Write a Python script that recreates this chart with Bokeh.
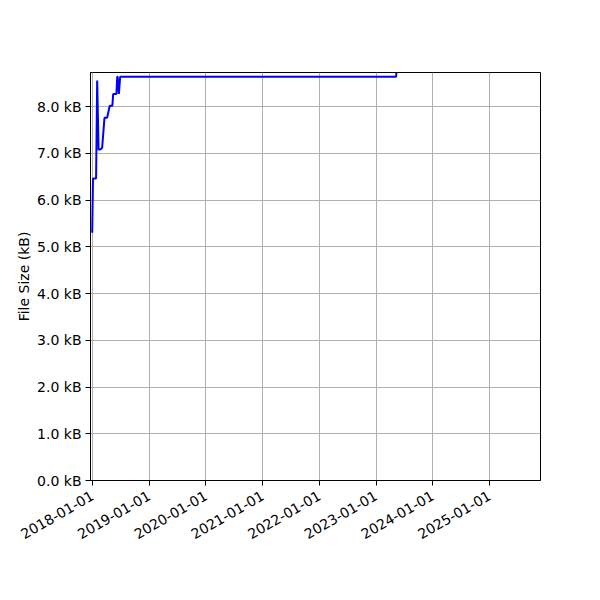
import math
import pandas as pd
from bokeh.plotting import figure
from bokeh.models import Range1d, FixedTicker, DatetimeTickFormatter, PrintfTickFormatter
from bokeh.embed import file_html
from bokeh.resources import INLINE

# ---- data ----
dates = ["2017-12-30", "2018-01-04", "2018-01-24", "2018-01-31", "2018-02-09",
         "2018-02-20", "2018-03-04", "2018-03-19", "2018-04-05", "2018-04-22",
         "2018-05-09", "2018-05-14", "2018-06-04", "2018-06-09", "2018-06-12",
         "2018-06-20", "2018-06-28", "2023-05-10", "2023-05-12"]
sizes_kb = [5.30, 6.46, 6.46, 8.56, 7.08,
            7.08, 7.12, 7.76, 7.76, 8.02,
            8.02, 8.27, 8.27, 8.64, 8.64,
            8.27, 8.64, 8.64, 8.73]
x_tick_dates = ["2018-01-01", "2019-01-01", "2020-01-01", "2021-01-01",
                "2022-01-01", "2023-01-01", "2024-01-01", "2025-01-01"]
y_ticks = [0, 1, 2, 3, 4, 5, 6, 7, 8]
x_limits = ["2017-12-19", "2025-11-25"]
y_limits = [0, 8.73]


def ms(s):
    return pd.Timestamp(s).value / 1e6


xs = [ms(d) for d in dates]

p = figure(x_axis_type="datetime",
           x_range=Range1d(ms(x_limits[0]), ms(x_limits[1])),
           y_range=Range1d(y_limits[0], y_limits[1]),
           frame_width=450, frame_height=408,
           min_border_left=90, min_border_right=52,
           min_border_top=72, min_border_bottom=112,
           output_backend="svg", toolbar_location=None)

p.line(xs, sizes_kb, line_color="#0000ff", line_width=2)

p.xaxis.ticker = FixedTicker(ticks=[ms(d) for d in x_tick_dates])
fmt = "%Y-%m-%d"
p.xaxis.formatter = DatetimeTickFormatter(milliseconds=fmt, seconds=fmt, minsec=fmt,
                                          minutes=fmt, hourmin=fmt, hours=fmt,
                                          days=fmt, months=fmt, years=fmt)
p.xaxis.major_label_orientation = math.pi / 6
p.yaxis.ticker = FixedTicker(ticks=y_ticks)
p.yaxis.formatter = PrintfTickFormatter(format="%.1f kB")
p.yaxis.axis_label = "File Size (kB)"

for ax in (p.xaxis, p.yaxis):
    ax.major_label_text_font = "DejaVu Sans"
    ax.major_label_text_font_size = "14px"
    ax.major_label_text_color = "black"
    ax.axis_label_text_font = "DejaVu Sans"
    ax.axis_label_text_font_size = "14px"
    ax.axis_label_text_font_style = "normal"
    ax.axis_label_text_color = "black"
    ax.axis_line_color = "black"
    ax.major_tick_line_color = "black"
    ax.major_tick_out = 5
    ax.major_tick_in = 0
    ax.minor_tick_line_color = None
    ax.major_label_standoff = 4

p.xaxis.major_label_standoff = 9
p.yaxis.axis_label_standoff = 2

p.grid.grid_line_color = "#b0b0b0"
p.grid.grid_line_width = 1
p.outline_line_color = "black"
p.outline_line_width = 1
p.background_fill_color = "white"
p.border_fill_color = "white"

open("out.html", "w").write(file_html(p, INLINE))
